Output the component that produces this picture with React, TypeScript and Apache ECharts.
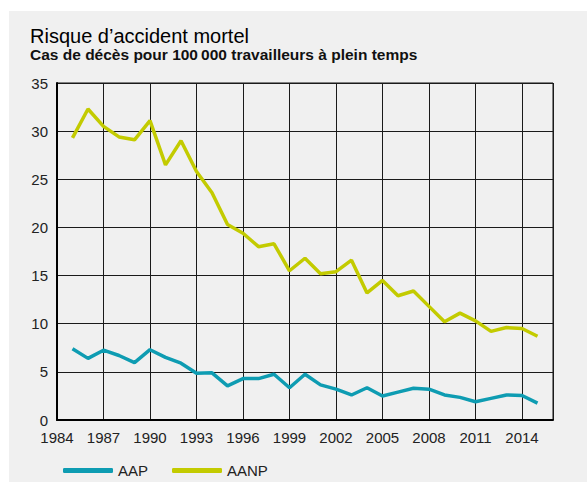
import React, { useEffect, useRef } from "react";
import * as echarts from "echarts";

const years = [
  1985, 1986, 1987, 1988, 1989, 1990, 1991, 1992, 1993, 1994, 1995, 1996, 1997, 1998, 1999, 2000,
  2001, 2002, 2003, 2004, 2005, 2006, 2007, 2008, 2009, 2010, 2011, 2012, 2013, 2014, 2015,
];
const aap = [
  7.4, 6.4, 7.25, 6.7, 5.95, 7.3, 6.5, 5.9, 4.85, 4.9, 3.55, 4.3, 4.3, 4.75, 3.35, 4.75,
  3.65, 3.2, 2.6, 3.35, 2.5, 2.9, 3.3, 3.2, 2.6, 2.35, 1.9, 2.25, 2.6, 2.55, 1.75,
];
const aanp = [
  29.3, 32.3, 30.5, 29.4, 29.1, 31.1, 26.5, 29.0, 25.8, 23.6, 20.3, 19.4, 18.0, 18.3, 15.5, 16.8,
  15.2, 15.4, 16.6, 13.2, 14.5, 12.9, 13.4, 11.8, 10.2, 11.1, 10.3, 9.2, 9.6, 9.5, 8.7,
];
const seriesNames = ["AAP", "AANP"];
const titleText = "Risque d\u2019accident mortel";
const subtitleText = "Cas de décès pour 100\u202f000 travailleurs à plein temps";

const FONT = "'Liberation Sans', Arial, Helvetica, sans-serif";

export default function App() {
  const ref = useRef<HTMLDivElement>(null);
  useEffect(() => {
    if (!ref.current) return;
    const chart = echarts.init(ref.current, undefined, { renderer: "svg" });
    chart.setOption({
      animation: false,
      textStyle: { fontFamily: FONT },
      graphic: [
        {
          type: "rect",
          z: -10,
          silent: true,
          shape: { x: 9, y: 11, width: 578, height: 471 },
          style: { fill: "#f0f0f0" },
        },
        {
          type: "text",
          x: 30,
          y: 36,
          style: {
            text: titleText,
            fontSize: 20,
            lineHeight: 16,
            fontFamily: FONT,
            fill: "#000",
            verticalAlign: "middle",
          },
        },
        {
          type: "text",
          x: 30,
          y: 54,
          style: {
            text: subtitleText,
            fontSize: 15.5,
            lineHeight: 13,
            fontWeight: "bold",
            fontFamily: FONT,
            fill: "#111",
            verticalAlign: "middle",
          },
        },
      ],
      grid: {
        left: 57,
        top: 83,
        right: 34,
        bottom: 62,
        show: true,
        borderColor: "#111",
        borderWidth: 1,
        backgroundColor: "transparent",
      },
      legend: {
        left: 58,
        top: 458,
        itemWidth: 50,
        itemHeight: 5,
        itemGap: 24,
        icon: "roundRect",
        textStyle: { fontSize: 15, color: "#222", fontFamily: FONT },
        data: seriesNames,
      },
      xAxis: {
        type: "value",
        min: 1984,
        max: 2016,
        interval: 3,
        axisLine: { show: true, lineStyle: { color: "#000", width: 2 } },
        axisTick: { show: false },
        axisLabel: {
          fontSize: 15,
          color: "#222",
          margin: 10,
          showMaxLabel: false,
          formatter: (v: number) => String(v),
        },
        splitLine: { show: true, lineStyle: { color: "#1a1a1a", width: 1 } },
      },
      yAxis: {
        type: "value",
        min: 0,
        max: 35,
        interval: 5,
        axisLine: { show: true, lineStyle: { color: "#000", width: 2 } },
        axisTick: { show: false },
        axisLabel: { fontSize: 15, color: "#222", margin: 9 },
        splitLine: { show: true, lineStyle: { color: "#1a1a1a", width: 1 } },
      },
      series: [
        {
          name: seriesNames[0],
          type: "line",
          data: years.map((y, i) => [y, aap[i]]),
          showSymbol: false,
          symbol: "none",
          color: "#0e9cb2",
          lineStyle: { width: 3.5, color: "#0e9cb2" },
          z: 3,
        },
        {
          name: seriesNames[1],
          type: "line",
          data: years.map((y, i) => [y, aanp[i]]),
          showSymbol: false,
          symbol: "none",
          color: "#c3cb00",
          lineStyle: { width: 3.5, color: "#c3cb00" },
          z: 3,
        },
      ],
    });
    return () => chart.dispose();
  }, []);
  return (
    <div
      ref={ref}
      style={{ position: "absolute", left: 0, top: 0, width: 587, height: 482 }}
    />
  );
}
